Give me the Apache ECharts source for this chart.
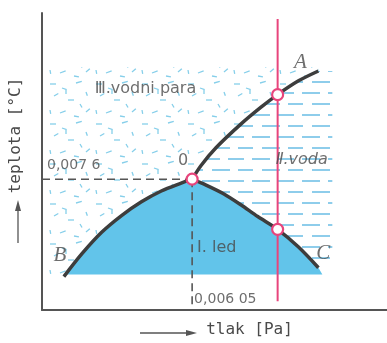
<!DOCTYPE html>
<html><head><meta charset="utf-8">
<script src="https://cdn.jsdelivr.net/npm/echarts@6.0.0/dist/echarts.min.js"></script>
<style>html,body{margin:0;padding:0;background:#fff}#c{width:387px;height:343px}</style>
</head><body><div id="c"></div>
<script>
// Schematic phase diagram of water (relative units on both axes)
const curveOB = [[22,34],[40,57],[60,79],[80,96],[100,110],[120,121],[140,129],[151,133]];      // sublimation (ice/vapour)
const curveOC = [[151,133],[165,127],[183,118],[200,107],[217,95],[237,82],[258,64],[278,43]];  // melting (ice/water)
const curveOA = [[151,133],[160,147],[175,165],[200,189],[220,206],[237,219],[258,233],[278,243]]; // boiling (water/vapour)
const triplePoint = [151,133];
const isobarLine = [[237,9],[237,296]];
const isobarCrossings = [[237,219],[237,82]];
const vapourBounds = {left:4, top:247, bottom:34};
const iceBounds = {bottom:36, right:282};
const waterBounds = {right:292, bottom:50};
const tickTemp = '0,007 6';
const tickPress = '0,006 05';
const annotations = [
  {name:'Ⅲ.vodni para', value:[53,225]},
  {name:'Ⅱ.voda', value:[235,153]},
  {name:'I. led', value:[156,63]},
  {name:'0', value:[142,152]},
  {name:'A', value:[260,252]},
  {name:'B', value:[18,55]},
  {name:'C', value:[283,57]},
  {name:tickTemp, value:[5,147]},
  {name:tickPress, value:[153,11]}
];

function makeTile(w,h,draw){const c=document.createElement('canvas');c.width=w;c.height=h;const g=c.getContext('2d');draw(g);return c;}
const waterTile = makeTile(50,22,g=>{
  g.strokeStyle='#5db8e2';g.lineWidth=1.4;
  [[2,5,20],[28,5,44],[12,16,30],[38,16,50],[0,16,3]].forEach(([a,y,b])=>{g.beginPath();g.moveTo(a,y);g.lineTo(b,y);g.stroke();});
});
const vapourTile = makeTile(46,40,g=>{
  g.strokeStyle='#86cfea';g.lineWidth=1.3;
  [[4,4,0,6],[16,8,20,5],[30,3,-15,6],[40,12,70,4],[8,16,-30,5],[22,20,0,6],[34,24,60,4],[4,30,80,4],[14,33,-20,6],[28,36,10,5],[40,32,-40,5],[20,10,90,4]]
  .forEach(([x,y,a,l])=>{const r=a*Math.PI/180;g.beginPath();g.moveTo(x,y);g.lineTo(x+l*Math.cos(r),y+l*Math.sin(r));g.stroke();});
});

const vapourPoly = [[vapourBounds.left,vapourBounds.top],[curveOA[curveOA.length-1][0],vapourBounds.top]]
  .concat(curveOA.slice().reverse(), curveOB.slice(1).reverse(), [[curveOB[0][0],vapourBounds.bottom],[vapourBounds.left,vapourBounds.bottom]]);
const waterPoly = curveOA.concat([[waterBounds.right,curveOA[curveOA.length-1][1]],[waterBounds.right,waterBounds.bottom]], curveOC.slice().reverse());
const icePoly = curveOB.concat(curveOC.slice(1), [[iceBounds.right,iceBounds.bottom],[curveOB[0][0],iceBounds.bottom]]);

function polySeries(points, fill, z){
  return {type:'custom', coordinateSystem:'cartesian2d', silent:true, z:z, data:[[0,0]],
    renderItem:(p,api)=>({type:'polygon', shape:{points:points.map(pt=>api.coord(pt))}, style:{fill:fill, stroke:null}})};
}
const textColor = '#4a4a4a';
const chart = echarts.init(document.getElementById('c'), null, {renderer:'canvas'});
chart.setOption({
  animation:false,
  grid:{left:40, right:0, top:13, bottom:28},
  xAxis:{type:'value', min:0, max:347, axisLine:{show:true, lineStyle:{color:'#555', width:2}}, axisTick:{show:false}, axisLabel:{show:false}, splitLine:{show:false},
    name:'tlak [Pa]', nameLocation:'middle', nameGap:12,
    nameTextStyle:{fontFamily:'DejaVu Sans Mono', fontSize:16, color:textColor, padding:[0,0,0,70]}},
  yAxis:{type:'value', min:0, max:302, axisLine:{show:true, lineStyle:{color:'#555', width:2}}, axisTick:{show:false}, axisLabel:{show:false}, splitLine:{show:false},
    name:'teplota [°C]', nameLocation:'middle', nameGap:18,
    nameTextStyle:{fontFamily:'DejaVu Sans Mono', fontSize:16, color:textColor, padding:[0,0,0,52]}},
  graphic:[
    {type:'line', shape:{x1:140,y1:333,x2:190,y2:333}, style:{stroke:'#555', lineWidth:1.3}},
    {type:'polygon', shape:{points:[[197,333],[186,330],[186,336]]}, style:{fill:'#555'}},
    {type:'line', shape:{x1:18,y1:243,x2:18,y2:207}, style:{stroke:'#555', lineWidth:1.3}},
    {type:'polygon', shape:{points:[[18,200],[15,211],[21,211]]}, style:{fill:'#555'}}
  ],
  series:[
    polySeries(vapourPoly, {image:vapourTile, repeat:'repeat'}, 1),
    polySeries(waterPoly, {image:waterTile, repeat:'repeat'}, 1),
    polySeries(icePoly, '#62c4ea', 2),
    {type:'line', z:3, silent:true, symbol:'none', data:[[0,triplePoint[1]],triplePoint], lineStyle:{color:'#555', width:1.6, type:[8,5]}},
    {type:'line', z:3, silent:true, symbol:'none', data:[triplePoint,[triplePoint[0],0]], lineStyle:{color:'#555', width:1.6, type:[8,5]}},
    {type:'line', z:4, silent:true, symbol:'none', smooth:0.3, data:curveOB, lineStyle:{color:'#3d3d3d', width:3.5}},
    {type:'line', z:4, silent:true, symbol:'none', smooth:0.3, data:curveOC, lineStyle:{color:'#3d3d3d', width:3.5}},
    {type:'line', z:4, silent:true, symbol:'none', smooth:0.3, data:curveOA, lineStyle:{color:'#3d3d3d', width:3.5}},
    {type:'line', z:5, silent:true, symbol:'none', data:isobarLine, lineStyle:{color:'#e8457c', width:2}},
    {type:'scatter', z:6, silent:true, symbol:'circle', symbolSize:11, data:[triplePoint].concat(isobarCrossings),
      itemStyle:{color:'#fff', borderColor:'#e8457c', borderWidth:2.2, opacity:1}},
    {type:'scatter', z:7, silent:true, symbolSize:0, data:annotations.map(a=>{
      const big = ['A','B','C'].includes(a.name);
      const centered = ['A','B','C','0'].includes(a.name);
      const small = a.name===tickTemp || a.name===tickPress;
      return {name:a.name, value:a.value, label:{show:true, position:'inside', formatter:'{b}',
        align: centered?'center':'left', verticalAlign:'middle',
        fontFamily: big?'Liberation Serif':'DejaVu Sans', fontStyle: (big||a.name==='Ⅱ.voda')?'italic':'normal',
        fontSize: big?21:(small?14:16), color:textColor}};
    })}
  ]
});
</script></body></html>
